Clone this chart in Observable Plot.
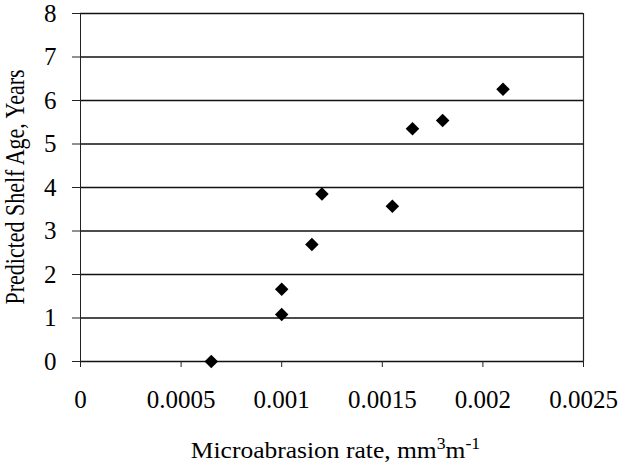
<!DOCTYPE html>
<html>
<head>
<meta charset="utf-8">
<script src="https://cdn.jsdelivr.net/npm/d3@7"></script>
<script src="https://cdn.jsdelivr.net/npm/@observablehq/plot@0.6"></script>
<style>
  html, body { margin: 0; padding: 0; background: #fff; }
</style>
</head>
<body>
<div id="chart"></div>
<script>
// Microabrasion rate (mm^3 m^-1) against predicted shelf age (years)
const rate = [0.00065, 0.001, 0.001, 0.00115, 0.0012, 0.00155, 0.00165, 0.0018, 0.0021];
const shelfAge = [0, 1.08, 1.66, 2.69, 3.85, 3.57, 5.35, 5.54, 6.26];

const xTicks = [0, 0.0005, 0.001, 0.0015, 0.002, 0.0025];
const xTickLabels = ["0", "0.0005", "0.001", "0.0015", "0.002", "0.0025"];
const yTicks = [0, 1, 2, 3, 4, 5, 6, 7, 8];

const points = rate.map((r, i) => ({rate: r, age: shelfAge[i]}));

const W = 621, H = 468;
const mL = 80, mR = 38, mT = 13, mB = 107;
const font = "'Liberation Serif', 'Times New Roman', serif";

const chart = Plot.plot({
  width: W,
  height: H,
  marginLeft: mL,
  marginRight: mR,
  marginTop: mT,
  marginBottom: mB,
  style: {fontFamily: font, fontSize: "25px", background: "#fff", color: "#000"},
  x: {domain: [0, 0.0025]},
  y: {domain: [0, 8]},
  marks: [
    Plot.ruleY(yTicks, {stroke: "#111", strokeWidth: 1.5}),
    Plot.ruleX([0], {stroke: "#222", strokeWidth: 1}),
    Plot.ruleX([0.0025], {stroke: "#222", strokeWidth: 1.2}),
    Plot.axisY({ticks: yTicks, tickSize: 8, tickPadding: 16, label: null, stroke: "#222", fontSize: 25}),
    Plot.axisX({ticks: xTicks, tickSize: 6, tickPadding: 23, label: null, stroke: "#222", fontSize: 25,
      tickFormat: (d) => xTickLabels[xTicks.indexOf(d)]}),
    Plot.dot(points, {x: "rate", y: "age", symbol: "square", r: 5.4, rotate: 45, fill: "#000", stroke: "none"})
  ]
});

const svg = d3.select(chart);

// Axis titles (slightly widened serif lettering)
const xt = svg.append("text")
  .attr("transform", `translate(${(mL + (W - mR)) / 2 + 4},458) scale(1.11,1)`)
  .attr("text-anchor", "middle")
  .attr("font-family", font)
  .attr("font-size", 23)
  .attr("fill", "#000");
xt.append("tspan").text("Microabrasion rate, mm");
xt.append("tspan").attr("dy", -9).attr("font-size", 16).text("3");
xt.append("tspan").attr("dy", 9).text("m");
xt.append("tspan").attr("dy", -9).attr("font-size", 16).text("-1");

svg.append("text")
  .attr("transform", `translate(24,${(mT + H - mB) / 2}) scale(1.2,1) rotate(-90)`)
  .attr("text-anchor", "middle")
  .attr("font-family", font)
  .attr("font-size", 22)
  .attr("fill", "#000")
  .text("Predicted Shelf Age, Years");

document.getElementById("chart").appendChild(chart);
</script>
</body>
</html>
